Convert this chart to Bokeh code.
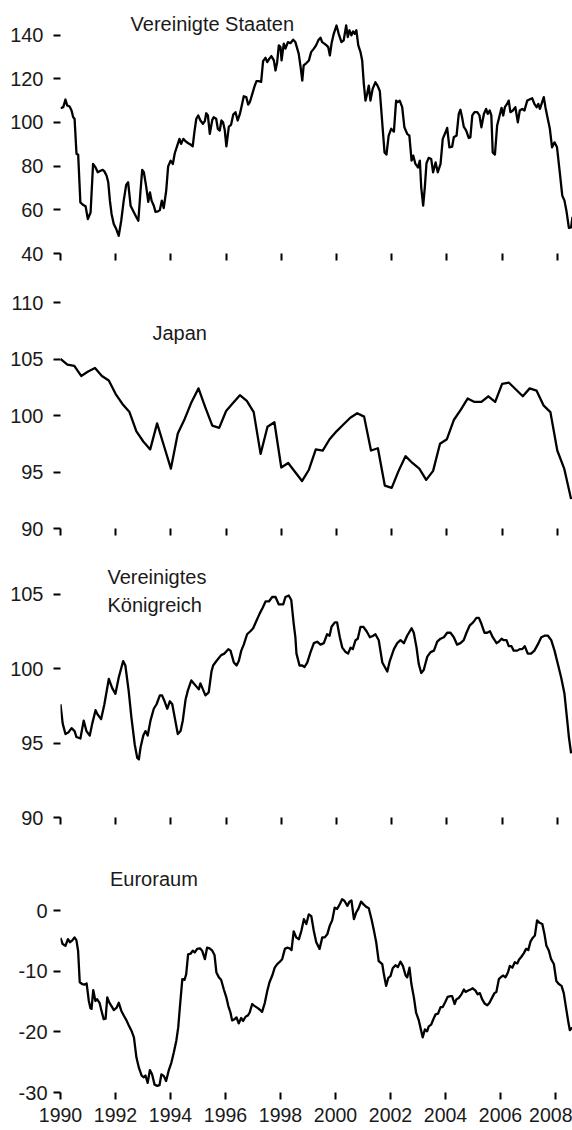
from bokeh.plotting import figure
from bokeh.layouts import column
from bokeh.models import FixedTicker, Label, Range1d
from bokeh.embed import file_html
from bokeh.resources import INLINE

# ---------------- data (decimal years, index values) ----------------
us_t = [1990.00, 1990.10, 1990.18, 1990.24, 1990.33, 1990.40, 1990.46, 1990.51, 1990.58, 1990.64,
        1990.72, 1990.81, 1990.91, 1990.99, 1991.09, 1991.18, 1991.27, 1991.35, 1991.45, 1991.53,
        1991.59, 1991.67, 1991.73, 1991.79, 1991.85, 1991.93, 1992.02, 1992.11, 1992.20, 1992.29,
        1992.38, 1992.45, 1992.54, 1992.63, 1992.74, 1992.82, 1992.90, 1992.96, 1993.02, 1993.10,
        1993.18, 1993.24, 1993.30, 1993.38, 1993.44, 1993.53, 1993.60, 1993.67, 1993.74, 1993.83,
        1993.90, 1993.99, 1994.07, 1994.14, 1994.23, 1994.31, 1994.37, 1994.45, 1994.53, 1994.63,
        1994.71, 1994.79, 1994.85, 1994.92, 1994.99, 1995.07, 1995.16, 1995.23, 1995.28, 1995.34,
        1995.41, 1995.50, 1995.55, 1995.64, 1995.70, 1995.77, 1995.83, 1995.89, 1995.95, 1996.01,
        1996.10, 1996.18, 1996.26, 1996.34, 1996.42, 1996.50, 1996.58, 1996.64, 1996.73, 1996.80,
        1996.86, 1996.95, 1997.03, 1997.10, 1997.18, 1997.27, 1997.34, 1997.43, 1997.49, 1997.57,
        1997.64, 1997.73, 1997.79, 1997.85, 1997.91, 1997.97, 1998.01, 1998.09, 1998.15, 1998.24,
        1998.33, 1998.43, 1998.51, 1998.63, 1998.70, 1998.76, 1998.81, 1998.91, 1999.00, 1999.08,
        1999.18, 1999.26, 1999.34, 1999.42, 1999.48, 1999.56, 1999.64, 1999.70, 1999.76, 1999.82,
        1999.90, 2000.00, 2000.08, 2000.18, 2000.26, 2000.35, 2000.41, 2000.47, 2000.54, 2000.60,
        2000.66, 2000.72, 2000.79, 2000.87, 2000.93, 2000.99, 2001.05, 2001.11, 2001.17, 2001.23,
        2001.31, 2001.41, 2001.50, 2001.57, 2001.66, 2001.74, 2001.81, 2001.89, 2001.98, 2002.08,
        2002.16, 2002.22, 2002.29, 2002.38, 2002.46, 2002.56, 2002.64, 2002.72, 2002.78, 2002.86,
        2002.95, 2003.02, 2003.07, 2003.14, 2003.20, 2003.26, 2003.34, 2003.43, 2003.50, 2003.59,
        2003.67, 2003.77, 2003.85, 2003.95, 2004.01, 2004.09, 2004.19, 2004.25, 2004.35, 2004.43,
        2004.49, 2004.55, 2004.61, 2004.70, 2004.79, 2004.85, 2004.92, 2005.00, 2005.10, 2005.18,
        2005.25, 2005.34, 2005.42, 2005.48, 2005.55, 2005.61, 2005.66, 2005.74, 2005.82, 2005.91,
        2005.98, 2006.04, 2006.10, 2006.18, 2006.24, 2006.30, 2006.39, 2006.48, 2006.57, 2006.64,
        2006.73, 2006.81, 2006.91, 2006.99, 2007.09, 2007.17, 2007.25, 2007.31, 2007.37, 2007.43,
        2007.51, 2007.57, 2007.63, 2007.73, 2007.81, 2007.90, 2007.99, 2008.09, 2008.18, 2008.26,
        2008.33, 2008.42, 2008.50, 2008.55]
us_v = [106.5, 107.0, 110.5, 107.8, 107.3, 105.5, 102.4, 101.7, 85.6, 85.3,
        63.4, 62.3, 61.6, 55.8, 58.8, 81.0, 79.4, 77.2, 77.9, 78.3,
        77.6, 75.6, 72.6, 64.2, 58.1, 53.5, 51.2, 48.1, 55.0, 64.2,
        71.4, 72.6, 61.9, 59.6, 56.8, 55.0, 68.8, 78.3, 77.2, 71.1,
        63.7, 68.0, 64.2, 61.9, 59.1, 59.3, 59.9, 64.2, 60.8, 68.8,
        79.9, 82.5, 81.0, 85.9, 89.4, 92.5, 90.2, 92.5, 91.4, 90.5,
        89.9, 89.1, 95.5, 101.7, 103.2, 100.9, 99.4, 100.6, 104.2, 103.2,
        94.8, 101.2, 102.4, 101.7, 97.1, 96.3, 100.9, 100.1, 96.6, 89.1,
        98.1, 98.9, 103.6, 104.7, 100.9, 103.9, 108.5, 112.0, 111.6, 108.2,
        109.3, 113.1, 116.5, 118.9, 118.9, 118.6, 128.1, 129.6, 127.6, 129.2,
        130.4, 128.4, 123.8, 127.6, 135.3, 134.5, 128.4, 136.1, 133.8, 136.8,
        136.3, 137.9, 136.8, 131.5, 125.3, 119.2, 126.1, 127.2, 128.4, 132.2,
        133.8, 135.3, 137.6, 138.8, 136.8, 136.1, 135.3, 134.5, 130.7, 136.1,
        140.6, 144.4, 140.6, 136.8, 137.6, 144.4, 139.1, 142.2, 139.9, 141.7,
        140.6, 142.2, 135.3, 132.2, 128.4, 117.7, 110.0, 113.1, 116.9, 110.0,
        115.4, 118.4, 116.5, 114.3, 99.4, 86.3, 85.3, 94.0, 97.1, 95.8,
        110.0, 109.3, 110.0, 107.0, 97.8, 94.8, 94.0, 82.5, 84.8, 81.0,
        79.4, 82.5, 70.3, 61.9, 70.3, 81.3, 83.8, 83.3, 77.2, 81.7,
        77.2, 81.0, 92.5, 95.5, 97.5, 88.6, 88.9, 93.2, 94.0, 103.9,
        105.8, 102.4, 98.1, 96.3, 92.9, 93.2, 103.2, 104.7, 104.7, 103.2,
        97.8, 103.9, 106.2, 103.9, 105.5, 103.2, 86.3, 85.3, 98.6, 103.2,
        106.7, 103.2, 107.0, 108.5, 110.0, 104.7, 105.5, 107.0, 100.1, 105.5,
        106.2, 105.5, 110.0, 110.5, 111.1, 108.5, 107.0, 108.5, 106.2, 108.5,
        111.6, 107.0, 103.2, 97.1, 88.6, 90.9, 88.6, 77.2, 66.5, 64.2,
        59.6, 51.7, 52.0, 56.8]

# Japan: quarterly, 1990 Q1 .. 2008 Q3
jp_start = 1990.0
jp_step = 0.25
jp_v = [105.0, 104.5, 104.4, 103.5, 103.9, 104.2, 103.5, 103.1, 101.9, 101.0,
        100.3, 98.6, 97.7, 97.0, 99.3, 97.3, 95.3, 98.4, 99.7, 101.2,
        102.4, 100.7, 99.1, 98.9, 100.4, 101.1, 101.8, 101.3, 100.3, 96.6,
        99.0, 99.4, 95.4, 95.8, 95.0, 94.2, 95.2, 97.0, 96.9, 97.9,
        98.6, 99.2, 99.8, 100.2, 99.9, 96.9, 97.1, 93.8, 93.6, 95.1,
        96.4, 95.8, 95.3, 94.3, 95.1, 97.5, 97.9, 99.6, 100.5, 101.5,
        101.2, 101.2, 101.7, 101.2, 102.8, 102.9, 102.3, 101.7, 102.4, 102.2,
        100.9, 100.3, 96.9, 95.3, 92.6]

uk_t = [1990.00, 1990.08, 1990.18, 1990.28, 1990.40, 1990.51, 1990.58, 1990.72, 1990.84, 1990.94,
        1991.06, 1991.15, 1991.27, 1991.35, 1991.47, 1991.59, 1991.75, 1991.87, 1991.99, 1992.11,
        1992.27, 1992.35, 1992.47, 1992.57, 1992.69, 1992.78, 1992.84, 1992.90, 1993.00, 1993.08,
        1993.16, 1993.26, 1993.38, 1993.48, 1993.60, 1993.68, 1993.77, 1993.87, 1993.96, 1994.05,
        1994.13, 1994.25, 1994.35, 1994.43, 1994.53, 1994.61, 1994.74, 1994.83, 1994.92, 1995.01,
        1995.07, 1995.16, 1995.25, 1995.37, 1995.47, 1995.53, 1995.65, 1995.82, 1995.94, 1996.08,
        1996.16, 1996.28, 1996.38, 1996.46, 1996.55, 1996.64, 1996.76, 1996.88, 1996.98, 1997.10,
        1997.22, 1997.33, 1997.43, 1997.55, 1997.67, 1997.79, 1997.91, 1998.07, 1998.15, 1998.27,
        1998.36, 1998.45, 1998.51, 1998.55, 1998.66, 1998.76, 1998.84, 1998.94, 1999.06, 1999.18,
        1999.30, 1999.42, 1999.54, 1999.66, 1999.75, 1999.82, 1999.94, 2000.02, 2000.12, 2000.21,
        2000.33, 2000.42, 2000.51, 2000.59, 2000.69, 2000.77, 2000.87, 2000.97, 2001.09, 2001.21,
        2001.33, 2001.41, 2001.53, 2001.66, 2001.75, 2001.84, 2001.93, 2002.08, 2002.20, 2002.32,
        2002.44, 2002.56, 2002.72, 2002.80, 2002.90, 2002.98, 2003.07, 2003.16, 2003.29, 2003.41,
        2003.53, 2003.65, 2003.77, 2003.89, 2004.01, 2004.13, 2004.25, 2004.37, 2004.49, 2004.61,
        2004.71, 2004.83, 2004.95, 2005.07, 2005.16, 2005.25, 2005.36, 2005.46, 2005.56, 2005.66,
        2005.80, 2005.88, 2005.98, 2006.06, 2006.16, 2006.24, 2006.34, 2006.42, 2006.55, 2006.64,
        2006.73, 2006.82, 2006.93, 2007.05, 2007.17, 2007.29, 2007.42, 2007.54, 2007.66, 2007.78,
        2007.90, 2008.02, 2008.14, 2008.26, 2008.36, 2008.42, 2008.50]
uk_v = [97.6, 96.3, 95.6, 95.7, 96.0, 95.8, 95.4, 95.3, 96.5, 95.8,
        95.5, 96.3, 97.2, 96.9, 96.6, 97.6, 99.3, 98.7, 98.3, 99.4,
        100.5, 100.2, 98.5, 96.7, 94.9, 94.0, 93.9, 94.7, 95.5, 95.8,
        95.5, 96.5, 97.3, 97.6, 98.2, 98.2, 97.8, 97.3, 97.8, 97.6,
        96.8, 95.6, 95.8, 96.5, 97.9, 98.5, 99.2, 99.0, 98.8, 98.6,
        99.0, 98.6, 98.2, 98.4, 99.8, 100.2, 100.5, 100.9, 101.0, 101.3,
        101.2, 100.4, 100.2, 100.5, 101.2, 101.6, 102.3, 102.5, 102.7, 103.2,
        103.7, 104.1, 104.5, 104.5, 104.8, 104.8, 104.3, 104.3, 104.8, 104.9,
        104.6, 103.0, 102.1, 101.0, 100.2, 100.2, 100.1, 100.4, 101.1, 101.7,
        101.8, 101.6, 101.7, 102.3, 102.2, 102.8, 103.1, 103.1, 102.1, 101.4,
        101.1, 101.0, 101.4, 101.3, 101.9, 102.0, 102.8, 102.8, 102.5, 102.1,
        102.2, 102.3, 101.9, 100.4, 100.1, 99.8, 100.5, 101.3, 101.7, 101.9,
        101.7, 102.2, 102.7, 102.4, 101.4, 100.3, 99.7, 99.9, 100.8, 101.1,
        101.2, 101.8, 102.0, 102.1, 102.4, 102.4, 102.1, 101.6, 101.7, 101.9,
        102.4, 102.9, 103.1, 103.4, 103.4, 103.0, 102.4, 102.4, 102.5, 102.1,
        101.7, 101.8, 102.0, 101.9, 101.9, 101.5, 101.5, 101.2, 101.2, 101.3,
        101.3, 101.5, 101.0, 101.0, 101.2, 101.6, 102.1, 102.2, 102.2, 101.9,
        101.2, 100.3, 99.4, 98.3, 96.5, 95.4, 94.3]

ea_t = [1990.00, 1990.08, 1990.18, 1990.27, 1990.34, 1990.43, 1990.51, 1990.58, 1990.64, 1990.70,
        1990.79, 1990.87, 1990.95, 1991.03, 1991.09, 1991.13, 1991.19, 1991.27, 1991.33, 1991.42,
        1991.49, 1991.57, 1991.64, 1991.70, 1991.78, 1991.85, 1991.94, 1992.04, 1992.12, 1992.21,
        1992.30, 1992.40, 1992.48, 1992.58, 1992.67, 1992.76, 1992.85, 1992.95, 1993.03, 1993.09,
        1993.17, 1993.25, 1993.33, 1993.42, 1993.52, 1993.60, 1993.67, 1993.76, 1993.84, 1993.94,
        1994.03, 1994.12, 1994.21, 1994.28, 1994.34, 1994.43, 1994.51, 1994.57, 1994.64, 1994.73,
        1994.81, 1994.88, 1994.97, 1995.07, 1995.15, 1995.25, 1995.33, 1995.42, 1995.52, 1995.60,
        1995.67, 1995.76, 1995.84, 1995.94, 1996.03, 1996.10, 1996.18, 1996.24, 1996.33, 1996.40,
        1996.48, 1996.57, 1996.64, 1996.73, 1996.81, 1996.88, 1996.97, 1997.05, 1997.15, 1997.24,
        1997.33, 1997.43, 1997.52, 1997.60, 1997.70, 1997.79, 1997.88, 1997.96, 1998.06, 1998.16,
        1998.24, 1998.33, 1998.40, 1998.48, 1998.57, 1998.67, 1998.76, 1998.85, 1998.94, 1999.03,
        1999.12, 1999.21, 1999.30, 1999.42, 1999.52, 1999.61, 1999.70, 1999.79, 1999.88, 1999.97,
        2000.06, 2000.16, 2000.24, 2000.33, 2000.43, 2000.51, 2000.58, 2000.67, 2000.75, 2000.83,
        2000.93, 2001.03, 2001.13, 2001.21, 2001.31, 2001.39, 2001.48, 2001.57, 2001.70, 2001.76,
        2001.84, 2001.92, 2002.00, 2002.08, 2002.18, 2002.27, 2002.36, 2002.45, 2002.55, 2002.61,
        2002.69, 2002.76, 2002.85, 2002.93, 2003.03, 2003.09, 2003.17, 2003.25, 2003.33, 2003.39,
        2003.48, 2003.55, 2003.64, 2003.73, 2003.82, 2003.90, 2004.00, 2004.08, 2004.18, 2004.24,
        2004.33, 2004.40, 2004.48, 2004.58, 2004.67, 2004.73, 2004.81, 2004.91, 2004.99, 2005.09,
        2005.17, 2005.25, 2005.33, 2005.42, 2005.52, 2005.60, 2005.70, 2005.78, 2005.85, 2005.94,
        2006.03, 2006.10, 2006.18, 2006.27, 2006.34, 2006.43, 2006.52, 2006.61, 2006.67, 2006.76,
        2006.85, 2006.93, 2007.01, 2007.09, 2007.17, 2007.25, 2007.33, 2007.42, 2007.52, 2007.60,
        2007.67, 2007.76, 2007.84, 2007.94, 2008.03, 2008.12, 2008.22, 2008.30, 2008.39, 2008.46,
        2008.52, 2008.61]
ea_v = [-4.5, -5.5, -5.8, -4.7, -5.2, -4.9, -4.4, -4.9, -6.6, -11.8,
        -12.1, -12.2, -12.0, -14.9, -16.1, -16.2, -13.1, -14.9, -14.6, -15.2,
        -16.5, -17.9, -17.8, -14.3, -15.2, -15.7, -16.4, -16.0, -15.2, -16.5,
        -17.3, -18.1, -18.9, -19.8, -20.9, -24.2, -25.9, -27.2, -27.5, -27.2,
        -28.4, -26.3, -27.0, -28.7, -28.9, -28.8, -27.0, -27.3, -28.1, -26.3,
        -25.1, -23.4, -21.5, -19.3, -16.0, -11.3, -11.4, -10.5, -7.2, -7.1,
        -6.6, -6.9, -6.3, -6.2, -6.6, -8.0, -6.1, -6.2, -6.6, -7.3,
        -10.2, -11.0, -11.4, -13.0, -14.3, -15.7, -16.8, -18.1, -17.9, -17.6,
        -18.6, -17.7, -18.2, -17.5, -17.3, -16.8, -15.4, -15.7, -16.0, -16.3,
        -16.7, -15.2, -13.2, -11.8, -10.7, -9.4, -8.8, -8.5, -8.0, -6.3,
        -6.1, -6.2, -6.5, -3.4, -4.4, -4.7, -3.3, -1.4, -2.2, -0.6,
        -0.9, -3.3, -5.2, -6.3, -4.4, -4.4, -3.9, -2.5, -1.6, 0.5,
        0.3, 1.1, 1.9, 1.6, 0.8, 1.5, 1.7, -1.4, -0.3, 0.3,
        1.5, 1.0, 0.6, 0.4, -1.4, -3.1, -5.2, -8.3, -8.8, -10.5,
        -12.4, -11.1, -10.8, -9.5, -9.0, -9.3, -8.4, -9.1, -10.7, -11.0,
        -9.4, -12.1, -14.3, -16.8, -18.1, -19.3, -20.9, -19.6, -19.9, -19.1,
        -18.8, -18.0, -17.1, -17.0, -15.9, -15.9, -15.0, -14.2, -14.1, -14.1,
        -15.4, -14.6, -14.4, -13.8, -13.0, -13.4, -13.2, -13.0, -12.8, -13.2,
        -13.8, -13.6, -14.6, -15.3, -15.6, -15.2, -14.3, -13.6, -13.4, -11.3,
        -10.9, -10.7, -11.0, -10.2, -9.1, -9.4, -8.5, -8.7, -8.1, -7.6,
        -7.0, -6.3, -6.5, -5.1, -4.5, -4.1, -1.6, -2.0, -2.2, -3.9,
        -5.8, -6.6, -8.0, -8.8, -11.6, -12.1, -12.4, -13.6, -16.2, -18.2,
        -19.7, -19.3]

panel_titles = ["Vereinigte Staaten", "Japan", "Vereinigtes", "Königreich", "Euroraum"]
year_ticks = [1990, 1992, 1994, 1996, 1998, 2000, 2002, 2004, 2006, 2008]
us_ticks = [40, 60, 80, 100, 120, 140]
jp_ticks = [90, 95, 100, 105, 110]
uk_ticks = [90, 95, 100, 105]
ea_ticks = [-30, -20, -10, 0]
ea_tick_labels = ["-30", "-20", "-10", "0"]

jp_t = [jp_start + jp_step * i for i in range(len(jp_v))]

FONT = "Liberation Sans"
TXT = "#1a1a1a"


def panel(xs, ys, yticks, y0, y1, x1, frame_h, btop, bbot, bleft, bright, show_x, ystandoff):
    p = figure(frame_width=512, frame_height=frame_h,
               x_range=Range1d(1990.0, x1), y_range=Range1d(y0, y1),
               output_backend="svg", toolbar_location=None,
               min_border_top=btop, min_border_bottom=bbot,
               min_border_left=bleft, min_border_right=bright)
    p.outline_line_color = None
    p.grid.visible = False
    p.background_fill_color = "white"
    p.border_fill_color = "white"
    p.line(xs, ys, line_color="black", line_width=2.3, line_join="round")

    ya = p.yaxis[0]
    ya.ticker = FixedTicker(ticks=yticks)
    ya.axis_line_color = None
    ya.major_tick_in = 0
    ya.major_tick_out = 7
    ya.major_tick_line_width = 2
    ya.major_tick_line_color = "black"
    ya.minor_tick_line_color = None
    ya.major_label_standoff = ystandoff
    ya.major_label_text_font = FONT
    ya.major_label_text_font_size = "20px"
    ya.major_label_text_color = TXT

    xa = p.xaxis[0]
    xa.ticker = FixedTicker(ticks=year_ticks)
    xa.axis_line_color = None
    xa.major_tick_in = 0
    xa.major_tick_out = 7
    xa.major_tick_line_width = 2
    xa.major_tick_line_color = "black"
    xa.minor_tick_line_color = None
    xa.major_label_text_font = FONT
    if show_x:
        xa.major_label_text_font_size = "19.5px"
        xa.major_label_text_color = TXT
        xa.major_label_standoff = 8
    else:
        xa.major_label_text_font_size = "1px"
        xa.major_label_text_color = None
        xa.major_label_text_alpha = 0
        xa.major_label_standoff = 0
    return p


def title(p, text, x, y):
    p.add_layout(Label(x=x, y=y, x_units="data", y_units="data", text=text,
                       text_font=FONT, text_font_size="20px", text_color=TXT,
                       text_align="left", text_baseline="middle"))


TOP_END = 1990.0 + 512 / 27.6
BOT_END = 1990.0 + 512 / 27.5

p1 = panel(us_t, us_v, us_ticks, 40, 40 + 243 / 2.184, TOP_END, 243, 10, 15, 60, 0, False, 10)
title(p1, panel_titles[0], 1992.54, 145.0)

p2 = panel(jp_t, jp_v, jp_ticks, 90, 90 + 248 / 11.3, TOP_END, 248, 12, 12, 60, 0, False, 10)
title(p2, panel_titles[1], 1993.33, 107.3)

p3 = panel(uk_t, uk_v, uk_ticks, 90, 90 + 269 / 14.9, TOP_END, 269, 8, 12, 60, 0, False, 10)
title(p3, panel_titles[2], 1991.70, 106.11)
title(p3, panel_titles[3], 1991.70, 104.23)

p4 = panel(ea_t, ea_v, ea_ticks, -30, -30 + 252 / 6.06, BOT_END, 252, 11, 37, 55, 5, True, 6)
p4.yaxis[0].major_label_overrides = dict(zip(ea_ticks, ea_tick_labels))
title(p4, panel_titles[4], 1991.80, 5.15)

layout = column(p1, p2, p3, p4, spacing=0)
open("out.html", "w").write(file_html(layout, INLINE))
